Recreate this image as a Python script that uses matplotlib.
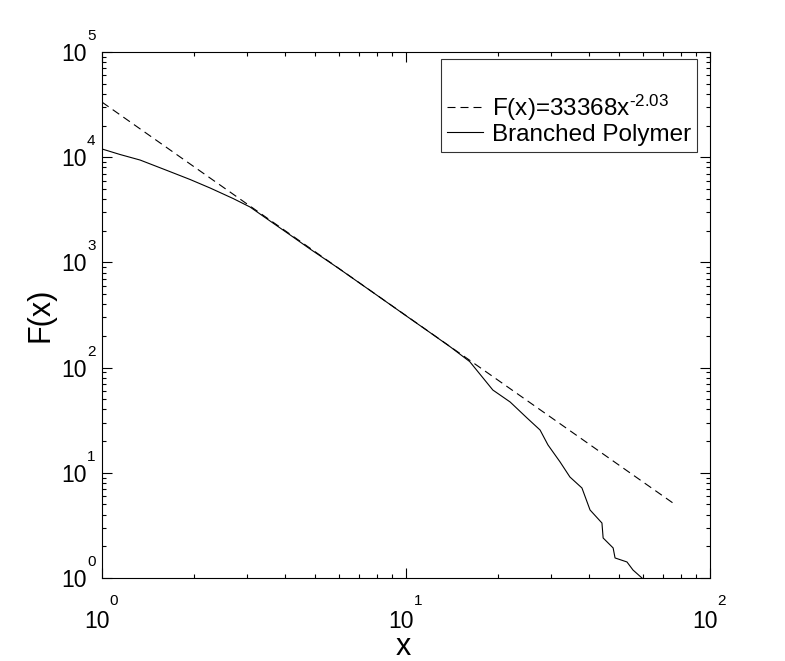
import matplotlib
matplotlib.use("Agg")
import matplotlib.pyplot as plt
from matplotlib.ticker import LogLocator, NullFormatter

plt.rcParams['font.family'] = ['Liberation Sans', 'DejaVu Sans']
plt.rcParams['mathtext.fontset'] = 'custom'
plt.rcParams['mathtext.rm'] = 'Liberation Sans'
plt.rcParams['mathtext.it'] = 'Liberation Sans'

# power-law fit, end points
fit_x = [1.0, 76.7]
fit_y = [33368, 5.0]

# branched polymer curve
poly_x = [1.0, 1.146, 1.334, 1.636, 1.948, 2.266, 2.698, 3.068, 3.569, 4.153, 4.833,
          6.0, 8.0, 10.0, 12.0, 14.0,
          16.2, 19.3, 22.0, 25.0, 27.6, 29.3, 32.1, 34.6, 37.9, 40.3, 44.1, 44.5,
          48.0, 48.7, 53.3, 55.8, 59.7]
poly_y = [11970, 10610, 9400, 7480, 6140, 5100, 4050, 3363, 2476, 1827, 1341,
          878, 490, 311, 215, 157,
          114, 61.2, 47.1, 33.2, 25.5, 18.4, 12.7, 9.12, 7.17, 4.43, 3.33, 2.40,
          1.93, 1.55, 1.42, 1.19, 1.0]

x_decades = [0, 1, 2]
y_decades = [0, 1, 2, 3, 4, 5]

fig = plt.figure(figsize=(7.85, 6.61), dpi=100)
ax = fig.add_axes([0.130, 0.1256, 0.7745, 0.7957])

ax.plot(fit_x, fit_y, color='black', lw=0.8, dashes=(7.2, 4.5),
        label=r'F(x)=33368x$^{\text{-2.03}}$')
ax.plot(poly_x, poly_y, color='black', lw=0.8, label='Branched Polymer')

ax.set_xscale('log')
ax.set_yscale('log')
ax.set_xlim(1, 100)
ax.set_ylim(1, 1e5)

ax.xaxis.set_major_locator(LogLocator(base=10, numticks=10))
ax.yaxis.set_major_locator(LogLocator(base=10, numticks=10))
ax.xaxis.set_minor_locator(LogLocator(base=10, subs=range(2, 10), numticks=20))
ax.yaxis.set_minor_locator(LogLocator(base=10, subs=range(2, 10), numticks=20))
ax.xaxis.set_minor_formatter(NullFormatter())
ax.yaxis.set_minor_formatter(NullFormatter())

ax.tick_params(which='both', direction='in', top=True, right=True, width=0.8,
               labelbottom=False, labelleft=False)
ax.tick_params(which='major', length=7)
ax.tick_params(which='minor', length=3.2)
for sp in ax.spines.values():
    sp.set_linewidth(0.8)

# tick labels drawn as "10" with a raised exponent, like the original
for d in x_decades:
    ax.annotate('10', xy=(10 ** d, 0), xycoords=('data', 'axes fraction'),
                xytext=(-3.6, -36), textcoords='offset points',
                ha='center', va='baseline', fontsize=16.5, annotation_clip=False)
    ax.annotate(str(d), xy=(10 ** d, 0), xycoords=('data', 'axes fraction'),
                xytext=(5.5, -19.4), textcoords='offset points',
                ha='left', va='baseline', fontsize=11, annotation_clip=False)
for d in y_decades:
    ax.annotate('10', xy=(0, 10 ** d), xycoords=('axes fraction', 'data'),
                xytext=(-10.8, -6.5), textcoords='offset points',
                ha='right', va='baseline', fontsize=16.5, annotation_clip=False)
    ax.annotate(str(d), xy=(0, 10 ** d), xycoords=('axes fraction', 'data'),
                xytext=(-10.8, 8.6), textcoords='offset points',
                ha='left', va='baseline', fontsize=11, annotation_clip=False)

ax.set_xlabel('x', fontsize=22)
ax.xaxis.label.set_va('baseline')
ax.xaxis.set_label_coords(0.495, -0.146)
ax.set_ylabel('F(x)', fontsize=22)
ax.yaxis.label.set_va('baseline')
ax.yaxis.set_label_coords(-0.0888, 0.5)

# empty title just gives the extra room above the first entry
leg = ax.legend(loc='upper right', fontsize=17.5, frameon=True, fancybox=False,
                edgecolor='black', handlelength=1.5, handletextpad=0.35,
                borderpad=0.25, labelspacing=0.05, borderaxespad=0,
                title=' ', title_fontsize=20,
                bbox_to_anchor=(0.9786, 0.9867))
leg.get_frame().set_linewidth(0.8)

fig.savefig('out.png', dpi=100)
